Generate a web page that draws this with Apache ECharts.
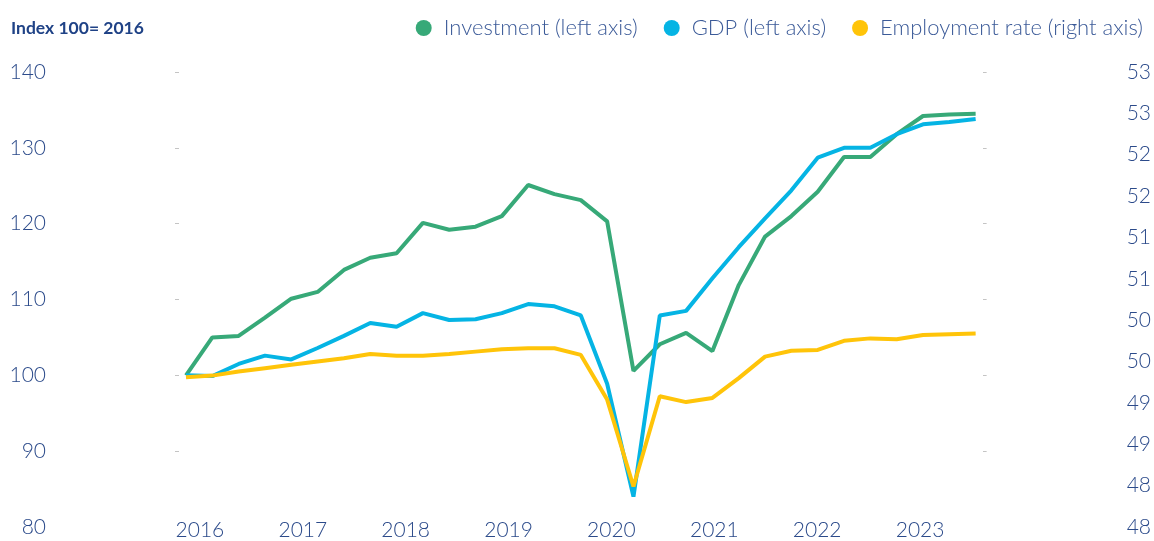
<!DOCTYPE html>
<html>
<head>
    <meta charset="utf-8" />
    <script src="https://cdn.jsdelivr.net/npm/echarts@6/dist/echarts.min.js"></script>
    <style>
        html, body { margin: 0; padding: 0; background: #fff; }
    </style>
</head>
<body>
<div id="main" style="width: 1154px;height:541px;"></div>

<script>
    // quarterly data, 2016Q1 .. 2023Q3
    var quarters = [];
    for (var y = 2016; y <= 2023; y++) {
        for (var q = 1; q <= 4; q++) {
            if (y == 2023 && q == 4) break;
            quarters.push(y + 'Q' + q);
        }
    }
    var years = ['2016', '2017', '2018', '2019', '2020', '2021', '2022', '2023'];

    var investment = [100, 105.0, 105.2, 107.6, 110.1, 111.0, 113.9, 115.5, 116.1, 120.1, 119.2, 119.6,
        121.0, 125.1, 123.9, 123.1, 120.3, 100.6, 104.1, 105.6, 103.2, 111.9, 118.3, 121.0,
        124.2, 128.8, 128.8, 131.8, 134.2, 134.4, 134.5];
    var gdp = [100, 99.9, 101.5, 102.6, 102.1, 103.6, 105.2, 106.9, 106.4, 108.2, 107.3, 107.4,
        108.2, 109.4, 109.1, 107.9, 98.9, 84.0, 107.9, 108.5, 112.8, 116.9, 120.7, 124.4,
        128.7, 130.0, 130.0, 131.8, 133.1, 133.4, 133.8];
    var employment = [49.31, 49.33, 49.38, 49.42, 49.46, 49.50, 49.54, 49.59, 49.57, 49.57, 49.59, 49.62,
        49.65, 49.66, 49.66, 49.58, 49.04, 47.99, 49.08, 49.01, 49.06, 49.30, 49.56, 49.63,
        49.64, 49.75, 49.78, 49.77, 49.82, 49.83, 49.84];

    function pairs(arr) {
        return arr.map(function(v, i) { return [i, v]; });
    }

    var textColor = '#2b4a8a';
    var labelFont = { fontSize: 21, fontFamily: 'Lato', fontWeight: 300, color: textColor };

    var myChart = echarts.init(document.getElementById('main'));
    var option = {
        animation: false,
        title: {
            text: 'Index 100= 2016',
            left: 6,
            top: 14,
            textStyle: { fontSize: 17.5, fontWeight: 'bold', fontFamily: 'Lato', color: '#1f4286' }
        },
        legend: {
            right: 6,
            top: 12,
            icon: 'circle',
            itemWidth: 16,
            itemHeight: 16,
            itemGap: 26,
            textStyle: { fontSize: 22, fontFamily: 'Lato', fontWeight: 300, color: '#3b5a98', padding: [0, 0, 0, 7] },
            data: ['Investment (left axis)', 'GDP (left axis)', 'Employment rate (right axis)']
        },
        grid: [
            { left: 175, right: 167, top: 72, bottom: 14 },
            { left: 148.5, right: 182.5, top: 72, bottom: 29 }
        ],
        xAxis: [
            { type: 'value', gridIndex: 0, min: -0.418, max: 30.418, show: false },
            {
                type: 'category', gridIndex: 1, data: years, boundaryGap: true,
                axisLine: { show: false }, axisTick: { show: false },
                axisLabel: Object.assign({ margin: 8 }, labelFont)
            }
        ],
        yAxis: [
            {
                type: 'value', gridIndex: 0, min: 80, max: 140, interval: 10, position: 'left',
                axisLine: { show: false }, axisTick: { show: false },
                axisLabel: Object.assign({ margin: 129 }, labelFont),
                splitLine: { show: true, showMinLine: false, lineStyle: { color: '#c4c4c4', width: 1, type: [4, 804] } }
            },
            {
                type: 'value', gridIndex: 0, min: 47.5, max: 53, interval: 0.5, position: 'right',
                axisLine: { show: false }, axisTick: { show: false },
                axisLabel: Object.assign({ margin: 140, formatter: function(v) { return Math.round(v); } }, labelFont),
                splitLine: { show: false }
            },
            { type: 'value', gridIndex: 1, show: false }
        ],
        series: [
            {
                name: 'Investment (left axis)', type: 'line', xAxisIndex: 0, yAxisIndex: 0,
                data: pairs(investment), showSymbol: false, color: '#37a978',
                lineStyle: { width: 4 }
            },
            {
                name: 'GDP (left axis)', type: 'line', xAxisIndex: 0, yAxisIndex: 0,
                data: pairs(gdp), showSymbol: false, color: '#05b4e4',
                lineStyle: { width: 4 }
            },
            {
                name: 'Employment rate (right axis)', type: 'line', xAxisIndex: 0, yAxisIndex: 1,
                data: pairs(employment), showSymbol: false, color: '#ffc409',
                lineStyle: { width: 4 }
            }
        ]
    };
    myChart.setOption(option);
</script>
</body>
</html>
